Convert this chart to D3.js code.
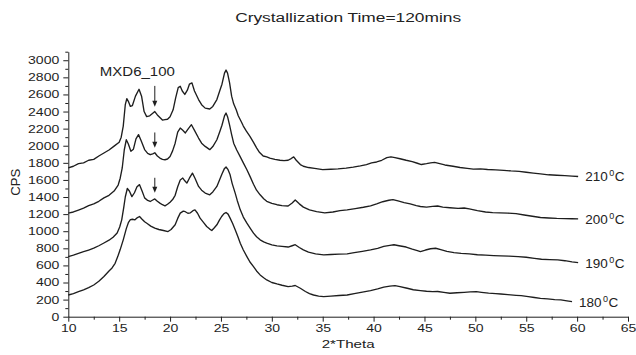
<!DOCTYPE html>
<html>
<head>
<meta charset="utf-8">
<script src="https://cdn.jsdelivr.net/npm/d3@7"></script>
<style>
  body { margin: 0; background: #fff; }
  svg text { font-family: "Liberation Sans", Arial, sans-serif; fill: #222; }
</style>
</head>
<body>
<div id="chart"></div>
<script>
// Data: [2*Theta, CPS]
const s210 = [[10,1740],[10.5,1760],[11,1790],[11.5,1800],[12,1830],[12.5,1840],[13,1880],[13.5,1915],[14,1950],[14.5,1995],[15,2040],[15.2,2100],[15.4,2230],[15.6,2480],[15.75,2550],[15.9,2520],[16.1,2460],[16.3,2470],[16.6,2580],[16.95,2660],[17.2,2580],[17.45,2400],[17.7,2340],[18,2350],[18.3,2380],[18.5,2400],[18.75,2360],[19,2330],[19.25,2300],[19.5,2305],[19.75,2310],[20,2340],[20.3,2420],[20.55,2560],[20.8,2680],[21,2695],[21.2,2640],[21.45,2600],[21.7,2650],[21.9,2720],[22.15,2735],[22.4,2640],[22.8,2540],[23.1,2480],[23.45,2440],[23.9,2430],[24.2,2460],[24.6,2540],[24.9,2650],[25.1,2720],[25.35,2850],[25.5,2885],[25.65,2850],[25.85,2735],[26.05,2580],[26.25,2490],[26.5,2420],[26.7,2350],[27,2280],[27.2,2230],[27.5,2170],[27.85,2110],[28.2,2040],[28.5,1975],[28.8,1920],[29.15,1880],[29.5,1870],[29.8,1856],[30.3,1840],[30.8,1830],[31.2,1825],[31.6,1830],[31.9,1850],[32.15,1870],[32.4,1830],[32.8,1780],[33.1,1760],[33.6,1745],[34.2,1735],[35,1720],[35.8,1725],[36.5,1730],[37.3,1738],[38,1750],[38.7,1765],[39.3,1780],[39.8,1800],[40.3,1810],[40.8,1830],[41.3,1860],[41.7,1870],[42.1,1860],[42.6,1848],[43.2,1830],[43.8,1815],[44.3,1795],[44.7,1780],[45.2,1790],[45.6,1800],[46,1806],[46.5,1790],[47,1775],[47.8,1760],[48.5,1745],[49.2,1735],[49.8,1727],[50.5,1730],[51.2,1722],[52,1718],[52.8,1712],[53.5,1705],[54.3,1700],[55,1690],[55.7,1680],[56.4,1670],[57.2,1660],[58,1655],[58.8,1650],[59.5,1645],[60.1,1640]];

const s200 = [[10,1212],[10.5,1225],[11,1248],[11.5,1270],[12,1300],[12.5,1320],[13,1350],[13.5,1390],[14,1420],[14.5,1470],[14.9,1540],[15.1,1620],[15.3,1740],[15.5,1950],[15.7,2070],[15.9,2020],[16.15,1935],[16.4,1960],[16.65,2080],[16.9,2130],[17.15,2060],[17.5,1955],[17.8,1910],[18.05,1895],[18.3,1905],[18.5,1918],[18.75,1880],[19,1856],[19.25,1840],[19.5,1836],[19.75,1845],[20,1875],[20.25,1940],[20.5,2030],[20.75,2160],[21,2207],[21.25,2180],[21.5,2150],[21.8,2200],[22.1,2246],[22.4,2180],[22.8,2090],[23.1,2030],[23.45,1992],[23.9,1954],[24.2,1990],[24.6,2070],[24.9,2170],[25.1,2240],[25.35,2350],[25.5,2383],[25.65,2340],[25.85,2240],[26.05,2130],[26.25,2030],[26.55,1950],[26.9,1870],[27.2,1800],[27.55,1719],[27.9,1630],[28.2,1550],[28.5,1480],[28.85,1426],[29.2,1380],[29.5,1350],[30,1325],[30.5,1310],[31,1300],[31.6,1295],[32,1330],[32.3,1365],[32.7,1320],[33.1,1282],[33.7,1250],[34.4,1230],[35.2,1215],[36,1225],[36.7,1240],[37.4,1250],[38.2,1265],[39,1280],[39.7,1297],[40.3,1320],[40.9,1345],[41.5,1362],[41.9,1370],[42.4,1355],[43,1335],[43.6,1320],[44.2,1300],[44.6,1289],[45.2,1282],[45.8,1290],[46.3,1295],[46.8,1282],[47.5,1275],[48.3,1268],[48.9,1272],[49.4,1262],[50.2,1240],[51,1225],[51.7,1218],[52.4,1215],[53.2,1212],[54,1205],[54.8,1190],[55.6,1175],[56.4,1160],[57.2,1155],[58,1150],[58.8,1148],[59.5,1146],[60.1,1145]];

const s190 = [[10,703],[10.5,720],[11,740],[11.5,760],[12,780],[12.5,801],[13,830],[13.5,862],[14,895],[14.4,930],[14.8,980],[15.05,1050],[15.25,1133],[15.45,1280],[15.6,1400],[15.8,1500],[16,1470],[16.25,1405],[16.5,1450],[16.75,1520],[17,1545],[17.25,1470],[17.5,1390],[17.8,1360],[18.05,1348],[18.3,1365],[18.5,1378],[18.75,1350],[19,1329],[19.25,1310],[19.5,1297],[19.75,1315],[20,1340],[20.25,1370],[20.5,1420],[20.75,1520],[21,1600],[21.25,1622],[21.45,1590],[21.65,1563],[21.9,1620],[22.2,1680],[22.45,1620],[22.8,1524],[23.1,1480],[23.45,1446],[23.9,1426],[24.2,1460],[24.6,1524],[24.9,1610],[25.1,1670],[25.35,1735],[25.5,1751],[25.7,1720],[25.9,1660],[26.1,1560],[26.4,1446],[26.6,1360],[26.9,1250],[27.2,1165],[27.55,1094],[27.9,1030],[28.2,977],[28.5,935],[28.85,899],[29.2,875],[29.5,860],[30,840],[30.5,828],[31,822],[31.6,815],[32,830],[32.3,842],[32.7,810],[33.1,782],[33.6,755],[34.3,735],[35.1,723],[35.8,728],[36.6,732],[37.4,735],[38.1,750],[38.9,765],[39.7,782],[40.4,800],[41,822],[41.6,835],[42,842],[42.5,830],[43.2,815],[43.8,790],[44.3,772],[44.6,762],[45.1,780],[45.6,795],[46.1,801],[46.6,785],[47.2,765],[47.9,750],[48.6,740],[49.4,735],[50.2,725],[51,720],[51.8,715],[52.5,711],[53.3,708],[54.2,703],[55,695],[55.8,682],[56.5,672],[57.3,668],[58.1,664],[58.8,655],[59.5,642],[60.1,633]];

const s180 = [[10,254],[10.5,270],[11,292],[11.5,315],[12,340],[12.5,371],[13,415],[13.5,470],[14,535],[14.3,570],[14.6,625],[14.85,700],[15.1,785],[15.4,899],[15.7,1030],[15.9,1100],[16.1,1135],[16.3,1140],[16.55,1133],[16.8,1160],[17,1172],[17.25,1140],[17.5,1110],[17.75,1090],[18.1,1060],[18.5,1036],[18.9,1020],[19.35,1008],[19.8,996],[20.1,1020],[20.5,1075],[20.75,1150],[21,1212],[21.3,1235],[21.5,1228],[21.75,1210],[22,1215],[22.25,1240],[22.45,1250],[22.7,1210],[22.95,1153],[23.3,1100],[23.6,1055],[23.9,1025],[24.1,1008],[24.35,1040],[24.6,1075],[24.85,1130],[25.07,1172],[25.3,1205],[25.5,1219],[25.7,1200],[25.9,1153],[26.15,1090],[26.4,1016],[26.65,940],[26.9,860],[27.2,780],[27.55,703],[27.85,640],[28.2,586],[28.5,535],[28.85,489],[29.2,455],[29.5,430],[30,400],[30.5,383],[31,368],[31.6,352],[32,358],[32.3,365],[32.8,333],[33.3,295],[33.7,270],[34.1,254],[34.6,240],[35.1,234],[35.8,240],[36.6,248],[37.4,254],[38.1,270],[38.9,288],[39.7,305],[40.4,325],[41,345],[41.6,358],[42.1,363],[42.6,352],[43.3,333],[43.9,315],[44.6,305],[45.2,298],[45.8,293],[46.3,295],[46.9,285],[47.5,274],[48.2,280],[48.9,285],[49.5,290],[50.1,293],[50.6,285],[51.3,275],[52,270],[52.5,266],[53.2,258],[54,250],[54.5,246],[55.2,235],[55.8,225],[56.4,215],[57.1,208],[57.8,200],[58.4,196],[59,185],[59.5,176]];

const seriesNames = ["210", "200", "190", "180"];
const seriesData = [s210, s200, s190, s180];

// arrows marking the small peak: [2*Theta, top CPS, tip CPS]
const arrows = [[18.5, 2700, 2455], [18.5, 2155, 1975], [18.5, 1625, 1450]];

const xTicks = [10, 15, 20, 25, 30, 35, 40, 45, 50, 55, 60, 65];
const yTicks = [0, 200, 400, 600, 800, 1000, 1200, 1400, 1600, 1800, 2000, 2200, 2400, 2600, 2800, 3000];

// Chart layout
const width = 636;
const height = 355;
const margin = { top: 51.7, right: 8, bottom: 38.3, left: 68.3 };
const innerWidth = width - margin.left - margin.right;
const innerHeight = height - margin.top - margin.bottom;
const ink = "#1e1e1e";

const svg = d3.select("#chart")
  .append("svg")
  .attr("width", width)
  .attr("height", height);

const chart = svg.append("g")
  .attr("transform", `translate(${margin.left},${margin.top})`);

const x = d3.scaleLinear().domain([10, 65]).range([0, innerWidth]);
const y = d3.scaleLinear().domain([0, 3100]).range([innerHeight, 0]);

// the original text is drawn wide, so stretch glyphs horizontally
function stretch(sel, k) {
  sel.each(function () {
    const w = this.getComputedTextLength();
    d3.select(this)
      .attr("textLength", w * k)
      .attr("lengthAdjust", "spacingAndGlyphs");
  });
}

// minor ticks first, majors on top
const xMinor = d3.range(12.5, 65, 5);
const yMinor = d3.range(100, 3101, 200);

chart.append("g")
  .attr("transform", `translate(0,${innerHeight})`)
  .call(d3.axisBottom(x).tickValues(xMinor).tickSize(3).tickFormat(""))
  .call(g => g.select(".domain").remove())
  .call(g => g.selectAll("text").remove());

chart.append("g")
  .call(d3.axisLeft(y).tickValues(yMinor).tickSize(3).tickFormat(""))
  .call(g => g.select(".domain").remove())
  .call(g => g.selectAll("text").remove());

const xAxisGroup = chart.append("g")
  .attr("transform", `translate(0,${innerHeight})`)
  .call(d3.axisBottom(x).tickValues(xTicks).tickFormat(d3.format("d"))
    .tickSize(5).tickPadding(3).tickSizeOuter(0));

const yAxisGroup = chart.append("g")
  .call(d3.axisLeft(y).tickValues(yTicks).tickFormat(d3.format("d"))
    .tickSize(5).tickPadding(4).tickSizeOuter(0));

[xAxisGroup, yAxisGroup].forEach(g => g.attr("font-size", null).attr("font-family", null));
xAxisGroup.selectAll("text").attr("text-anchor", "middle");
yAxisGroup.selectAll("text").attr("text-anchor", "end");

chart.selectAll(".tick text")
  .style("font-size", "10.8px")
  .style("fill", ink)
  .call(stretch, 1.3);
chart.selectAll(".domain, .tick line")
  .style("stroke", ink);

// Lines
const line = d3.line()
  .x(d => x(d[0]))
  .y(d => y(d[1]));

chart.selectAll(".xrd")
  .data(seriesData)
  .enter()
  .append("path")
  .attr("class", "xrd")
  .attr("d", line)
  .attr("fill", "none")
  .attr("stroke", ink)
  .attr("stroke-width", 1.35)
  .attr("stroke-linejoin", "round");

// Temperature labels at the line ends
const labels = chart.selectAll(".temp")
  .data(seriesData)
  .enter()
  .append("text")
  .attr("class", "temp")
  .attr("x", d => x(d[d.length - 1][0]) + 7)
  .attr("y", d => y(d[d.length - 1][1]) + 5)
  .style("font-size", "13.5px");

labels.append("tspan").text((d, i) => seriesNames[i]);
labels.append("tspan").attr("dx", 1.5).attr("dy", -5).style("font-size", "9px").text("0");
labels.append("tspan").attr("dx", 0.5).attr("dy", 5).text("C");

// Arrows
const arrowG = chart.selectAll(".arrow")
  .data(arrows)
  .enter()
  .append("g")
  .attr("class", "arrow");

arrowG.append("line")
  .attr("x1", d => x(d[0]))
  .attr("x2", d => x(d[0]))
  .attr("y1", d => y(d[1]))
  .attr("y2", d => y(d[2]) - 3)
  .attr("stroke", ink)
  .attr("stroke-width", 1);

arrowG.append("path")
  .attr("d", d => {
    const ax = x(d[0]);
    const ay = y(d[2]);
    return `M${ax - 2.5},${ay - 6}L${ax},${ay}L${ax + 2.5},${ay - 6}Z`;
  })
  .attr("fill", ink);

// Sample label
chart.append("text")
  .attr("x", x(13.1))
  .attr("y", y(2810))
  .style("font-size", "12px")
  .text("MXD6_100")
  .attr("textLength", 75)
  .attr("lengthAdjust", "spacingAndGlyphs");

// Title
svg.append("text")
  .attr("x", margin.left + innerWidth / 2)
  .attr("y", 22)
  .attr("text-anchor", "middle")
  .style("font-size", "12px")
  .text("Crystallization Time=120mins")
  .attr("textLength", 226)
  .attr("lengthAdjust", "spacingAndGlyphs");

// Axis labels
svg.append("text")
  .attr("x", margin.left + innerWidth / 2)
  .attr("y", 348)
  .attr("text-anchor", "middle")
  .style("font-size", "11.5px")
  .text("2*Theta")
  .attr("textLength", 53)
  .attr("lengthAdjust", "spacingAndGlyphs");

svg.append("text")
  .attr("transform", `translate(20,${margin.top + innerHeight / 2 - 2}) rotate(-90)`)
  .attr("text-anchor", "middle")
  .style("font-size", "12.5px")
  .text("CPS")
  .attr("textLength", 27)
  .attr("lengthAdjust", "spacingAndGlyphs");
</script>
</body>
</html>
